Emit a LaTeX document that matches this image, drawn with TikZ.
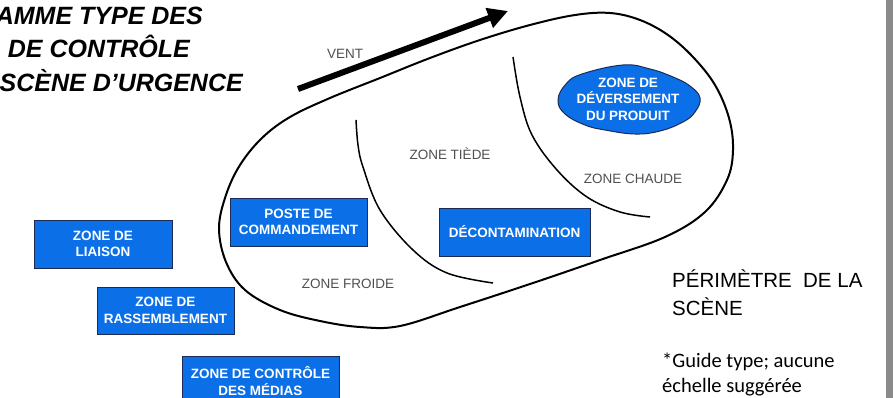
\documentclass[tikz,border=0pt]{standalone}
\usepackage{fontspec}
\setmainfont{Liberation Sans}
\newfontfamily\notefont{Carlito}
\usetikzlibrary{arrows.meta}
\definecolor{zoneblue}{HTML}{0B70E8}
\definecolor{zoneedge}{HTML}{1B2B55}
\definecolor{labelgray}{HTML}{505050}
\definecolor{sidebar}{HTML}{8A8A8A}
\tikzset{
  zonebox/.style={draw=zoneedge, line width=1pt, fill=zoneblue, text=white,
    font=\bfseries\fontsize{13.5}{16.5}\selectfont, align=center,
    inner sep=0pt, minimum height=48pt},
  zonelabel/.style={text=labelgray, font=\fontsize{13.5}{16}\selectfont, inner sep=0pt},
  perimeter/.style={draw=black, line width=2pt},
  boundary/.style={draw=black, line width=1.5pt},
  titletext/.style={font=\bfseries\itshape\fontsize{25}{30}\selectfont, inner sep=0pt, anchor=base east},
}
\begin{document}
\begin{tikzpicture}[x=1pt, y=-1pt]
\useasboundingbox (0,0) rectangle (893,398);
\clip (0,0) rectangle (893,398);
\fill[white] (0,0) rectangle (893,398);
\fill[sidebar] (886,0) rectangle (893,398);

% title block
\node[titletext] (t1) at (203,25) {AMME TYPE DES};
\node[titletext] (t2) at (190,58) {DE CONTRÔLE};
\node[titletext] (t3) at (243,92) {SCÈNE D’URGENCE};

% wind
\coordinate (windtail) at (298,89);
\coordinate (windtip) at (508,11);
\draw[line width=6pt, -{Triangle[length=20pt,width=20pt]}] (windtail) -- (windtip);
\node[zonelabel] (vent) at (345,54) {VENT};

% scene perimeter
\draw[perimeter] plot[smooth cycle, tension=0.6] coordinates {
  (219,228) (226,195) (240,165) (262,138) (290,117) (330,98) (380,78)
  (430,58) (480,40) (530,25) (575,15) (610,13) (640,20) (668,35)
  (693,57) (715,85) (729,118) (733,150) (727,180) (705,212) (665,237)
  (600,260) (533,283) (460,307) (400,326) (360,327) (320,321)
  (280,310) (245,290) (226,262)};

% warm and hot zone boundaries
\draw[boundary] plot[smooth, tension=0.6] coordinates {
  (356,120) (358,145) (363,167) (380,210) (413,250) (447,273) (493,283)};
\draw[boundary] plot[smooth, tension=0.6] coordinates {
  (513,57) (520,97) (532,135) (557,170) (587,197) (620,212) (650,217)};

% spill area
\draw[draw=zoneedge, line width=1pt, fill=zoneblue] plot[smooth cycle, tension=0.7] coordinates {
  (558,100) (566,84) (582,74) (623,65) (650,69) (673,77) (690,86)
  (700,98) (695,112) (683,122) (660,131) (635,134) (605,130) (585,125) (565,114)};
\node[text=white, font=\bfseries\fontsize{13.5}{16.5}\selectfont, align=center] (spill) at (628,99)
  {ZONE DE\\DÉVERSEMENT\\DU PRODUIT};

% zone labels
\node[zonelabel] (tiede) at (450,154) {ZONE TIÈDE};
\node[zonelabel] (chaude) at (633,179) {ZONE CHAUDE};
\node[zonelabel] (froide) at (348,284) {ZONE FROIDE};

% operational areas
\node[zonebox, minimum width=137pt] (poste) at (298.5,222) {POSTE DE\\COMMANDEMENT};
\node[zonebox, minimum width=138pt] (liaison) at (103,244) {ZONE DE\\LIAISON};
\node[zonebox, minimum width=137pt, minimum height=47pt] (rassemblement) at (165.5,310.5) {ZONE DE\\RASSEMBLEMENT};
\node[zonebox, minimum width=157pt, minimum height=50pt] (medias) at (260.5,381) {ZONE DE CONTRÔLE\\DES MÉDIAS};
\node[zonebox, minimum width=151pt] (decon) at (514.5,232) {DÉCONTAMINATION};

% notes
\node[anchor=base west, inner sep=0pt, font=\fontsize{20.5}{25}\selectfont] (perim1) at (672,287) {PÉRIMÈTRE\ \ DE LA};
\node[anchor=base west, inner sep=0pt, font=\fontsize{20.5}{25}\selectfont] (perim2) at (672,315) {SCÈNE};
\node[anchor=base west, inner sep=0pt, font=\notefont\fontsize{20.5}{25}\selectfont] (note1) at (662,367) {*Guide type; aucune};
\node[anchor=base west, inner sep=0pt, font=\notefont\fontsize{20.5}{25}\selectfont] (note2) at (662,392) {échelle suggérée};
\end{tikzpicture}
\end{document}
